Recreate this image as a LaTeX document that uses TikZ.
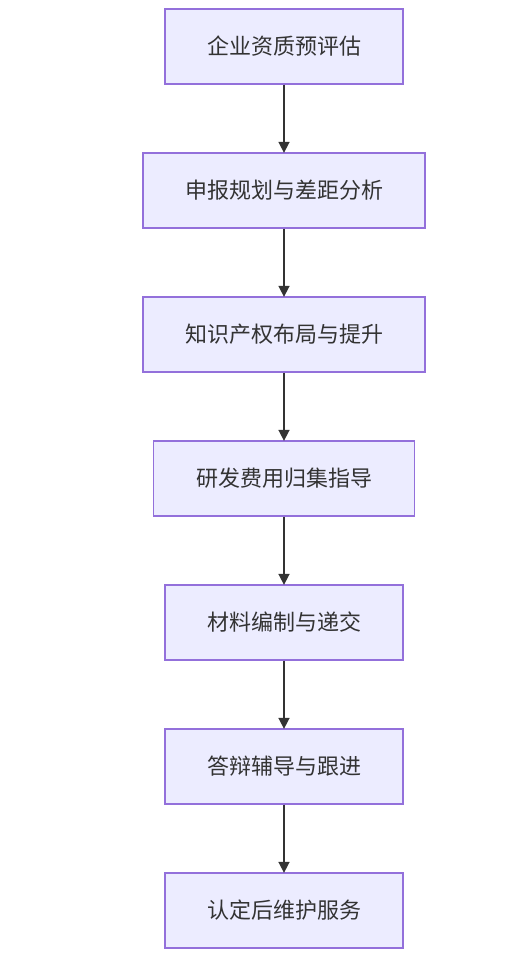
\documentclass[tikz,border=0pt]{standalone}
\usepackage{fontspec}
\newfontfamily\cjk{Noto Sans CJK SC}
\usetikzlibrary{arrows.meta}
\definecolor{boxfill}{HTML}{ECECFF}
\definecolor{boxline}{HTML}{9370DB}
\definecolor{ink}{HTML}{333333}
\tikzset{
  stepbox/.style={draw=boxline, fill=boxfill, line width=1.3pt, minimum height=75pt,
    inner sep=0pt, text=ink, font=\cjk\fontsize{22}{26}\selectfont},
  flow/.style={draw=ink, line width=1.6pt, -{Triangle[length=11pt,width=11pt]}, shorten >=-0.5pt}
}
\begin{document}
\begin{tikzpicture}[x=1pt,y=-1pt]
\useasboundingbox (0,0) rectangle (523,959);
\node[stepbox, minimum width=238pt] (a) at (284,46.5) {企业资质预评估};
\node[stepbox, minimum width=282pt] (b) at (284,190.5) {申报规划与差距分析};
\node[stepbox, minimum width=282pt] (c) at (284,334.5) {知识产权布局与提升};
\node[stepbox, minimum width=261pt] (d) at (284,478.5) {研发费用归集指导};
\node[stepbox, minimum width=238pt] (e) at (284,622.5) {材料编制与递交};
\node[stepbox, minimum width=238pt] (f) at (284,766.5) {答辩辅导与跟进};
\node[stepbox, minimum width=238pt] (g) at (284,910.5) {认定后维护服务};
\draw[flow] (a) -- (b);
\draw[flow] (b) -- (c);
\draw[flow] (c) -- (d);
\draw[flow] (d) -- (e);
\draw[flow] (e) -- (f);
\draw[flow] (f) -- (g);
\end{tikzpicture}
\end{document}
